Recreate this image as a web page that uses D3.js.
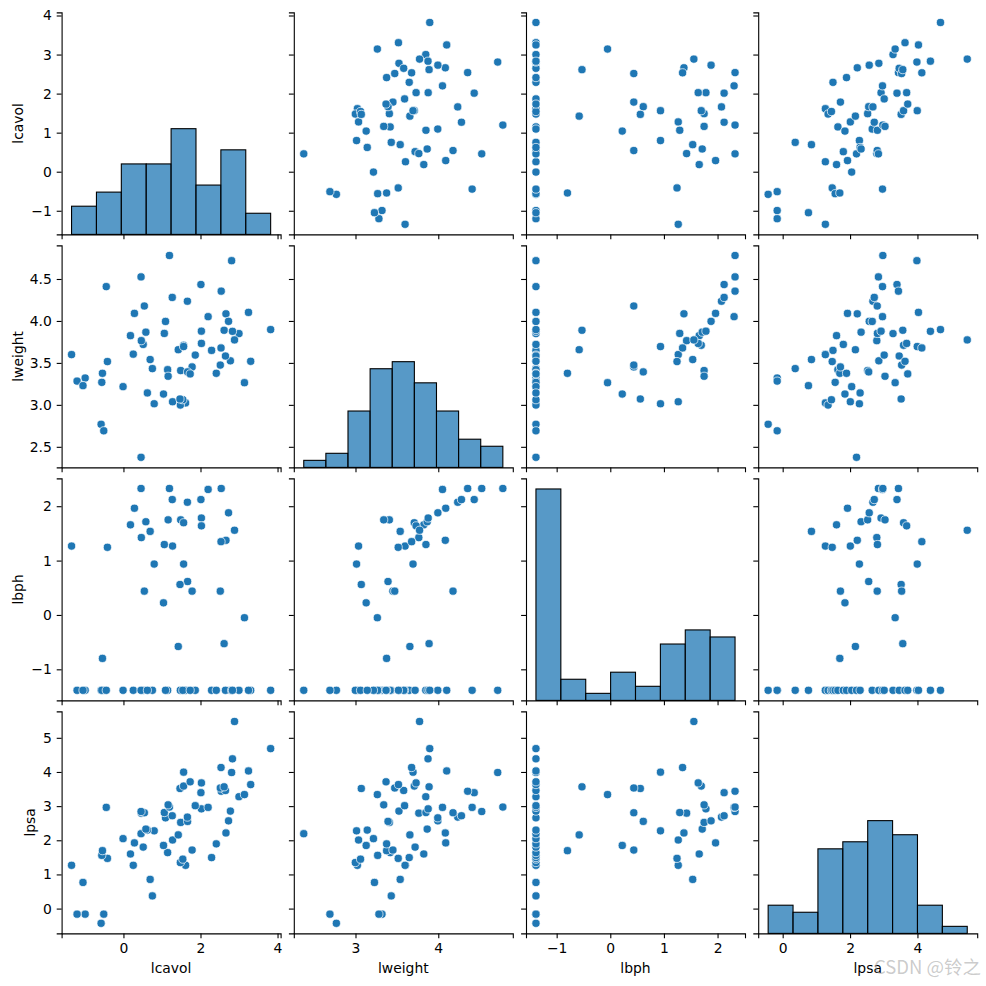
<!DOCTYPE html>
<html><head><meta charset="utf-8">
<style>html,body{margin:0;padding:0;background:#fff}svg{display:block}text{font-family:"DejaVu Sans",sans-serif;fill:#000}</style>
<script src="https://cdn.jsdelivr.net/npm/d3@7"></script></head>
<body><svg id="c" width="986" height="986"></svg>
<script>
const variables = ["lcavol","lweight","lbph","lpsa"];
const lcavol = [-0.580,-0.994,-0.511,-1.204,0.751,-1.050,0.693,0.255,-1.347,1.613,1.477,1.541,-0.416,2.288,-0.562,0.182,1.147,-0.545,1.782,0.513,1.040,2.410,0.285,1.275,-0.010,1.423,0.457,2.661,0.798,0.621,0.582,1.486,1.665,2.728,1.092,1.660,1.267,0.464,0.542,1.061,0.457,2.776,2.023,2.198,-0.446,1.194,1.864,1.160,2.999,3.141,2.011,2.538,2.648,1.468,2.514,2.613,1.562,3.303,2.024,1.732,2.808,1.562,3.246,2.533,2.830,3.821,2.883];
const lweight = [2.769,3.320,2.691,3.283,3.432,3.229,3.540,3.604,3.599,3.023,2.998,3.061,3.516,3.649,3.268,3.825,3.419,3.376,3.452,3.720,3.129,3.376,4.090,3.037,3.217,3.657,2.375,4.085,3.013,3.142,3.866,3.409,3.393,3.995,3.994,4.235,4.280,3.765,4.178,3.851,4.525,3.525,3.878,4.051,4.409,4.780,3.593,3.341,3.849,3.264,4.434,4.355,3.582,3.070,3.474,3.889,3.710,3.519,3.732,3.369,4.718,3.695,4.102,3.678,3.876,3.897,3.774];
const lbph = [-1.386,-1.386,-1.386,-1.386,-1.386,-1.386,1.537,-1.386,1.267,-1.386,-1.386,-1.386,1.244,-1.386,-1.386,1.658,-1.386,-0.799,0.438,-1.386,0.223,-1.386,1.963,1.267,-1.386,-0.580,-1.386,1.373,0.936,-1.386,1.714,1.749,0.615,1.879,-1.386,2.073,2.122,1.423,0.438,1.295,2.326,-1.386,1.783,2.308,-1.386,2.326,-1.386,1.749,-1.386,-0.051,2.122,2.326,-1.386,0.560,0.438,-0.528,1.696,-1.386,1.639,-1.386,-1.386,0.936,-1.386,1.348,-1.386,-1.386,1.558];
const lpsa = [-0.431,-0.163,-0.163,-0.163,0.372,0.765,0.854,1.267,1.267,1.267,1.348,1.447,1.470,1.493,1.558,1.599,1.639,1.696,1.714,1.800,1.848,1.895,1.924,2.008,2.048,2.158,2.192,2.214,2.277,2.298,2.327,2.522,2.553,2.569,2.657,2.678,2.718,2.794,2.806,2.812,2.842,2.854,2.920,2.963,2.963,2.973,3.013,3.037,3.275,3.338,3.393,3.436,3.458,3.516,3.531,3.565,3.588,3.631,3.680,3.712,3.984,3.994,4.030,4.130,4.385,4.684,5.478];
const binCounts = [8,9,8,8];
const yTickValues = [[-1,0,1,2,3,4],[2.5,3,3.5,4,4.5],[-1,0,1,2],[0,1,2,3,4,5]];
const xTickValues = [[0,2,4],[3,4],[-1,0,1,2],[0,2,4]];
const yTickFormats = [",d",".1f",",d",",d"];
const columns = [lcavol,lweight,lbph,lpsa];

const left=61.6, top0=12.4, w=219, h=222, pitchX=232.2, pitchY=233;
const blue="#1f77b4", barFill="rgba(31,119,180,0.75)";
const svg=d3.select("#c");
const pad=e=>{const m=(e[1]-e[0])*0.05;return [e[0]-m,e[1]+m];};
const xs=columns.map(c=>d3.scaleLinear().domain(pad(d3.extent(c))).range([0,w]));
const ys=columns.map(c=>d3.scaleLinear().domain(pad(d3.extent(c))).range([h,0]));

const bins=columns.map((c,i)=>{
  const [a,b]=d3.extent(c), n=binCounts[i];
  const edges=Array.from({length:n-1},(_,k)=>a+(b-a)*(k+1)/n);
  return d3.bin().domain([a,b]).thresholds(edges)(c);
});
const histY=d3.scaleLinear().domain([0,d3.max(bins.flat(),b=>b.length)*1.05]).range([h,0]);
const ylabelX=[17.5,17.5,17.5,30];

variables.forEach((vy,r)=>variables.forEach((vx,c)=>{
  const g=svg.append("g").attr("transform",`translate(${left+c*pitchX},${top0+r*pitchY})`);
  if(r===c){
    g.selectAll("rect").data(bins[c]).join("rect")
      .attr("x",d=>xs[c](d.x0)).attr("width",d=>xs[c](d.x1)-xs[c](d.x0))
      .attr("y",d=>histY(d.length)).attr("height",d=>h-histY(d.length))
      .attr("fill",barFill).attr("stroke","#000").attr("stroke-width",1.1);
  } else {
    g.selectAll("circle").data(columns[c].map((v,i)=>[v,columns[r][i]])).join("circle")
      .attr("cx",d=>xs[c](d[0])).attr("cy",d=>ys[r](d[1])).attr("r",4.1)
      .attr("fill",blue).attr("stroke","#fff").attr("stroke-width",0.7);
  }
  const ax=d3.axisBottom(xs[c]).tickValues(xTickValues[c]).tickSizeOuter(0).tickSize(4.9).tickPadding(4.9).tickFormat(d3.format(",d"));
  const ay=d3.axisLeft(ys[r]).tickValues(yTickValues[r]).tickSizeOuter(0).tickSize(4.9).tickPadding(4.9).tickFormat(d3.format(yTickFormats[r]));
  const gx=g.append("g").attr("transform",`translate(0,${h})`).call(ax);
  const gy=g.append("g").call(ay);
  [gx,gy].forEach(s=>{
    s.attr("font-family",null).attr("font-size",null);
    s.select(".domain").attr("stroke","#000").attr("stroke-width",1.1);
    s.selectAll(".tick line").attr("stroke","#000").attr("stroke-width",1.1);
    s.selectAll(".tick text").style("font-size","13.9px").attr("fill","#000");
  });
  if(r<3) gx.selectAll(".tick text").remove();
  if(c>0) gy.selectAll(".tick text").remove();
  if(r===3) svg.append("text").attr("x",left+c*pitchX+w/2).attr("y",973).attr("text-anchor","middle").style("font-size","13.9px").text(vx);
  if(c===0) svg.append("text").attr("transform",`translate(${ylabelX[r]+5},${top0+r*pitchY+h/2}) rotate(-90)`).attr("text-anchor","middle").style("font-size","13.9px").text(vy);
}));

svg.append("text").attr("x",981).attr("y",974).attr("text-anchor","end")
  .style("font-family",'"Noto Sans CJK SC","DejaVu Sans",sans-serif').style("font-size","18.5px")
  .style("fill","rgba(140,140,140,0.45)").text("CSDN @铃之");
</script></body></html>
